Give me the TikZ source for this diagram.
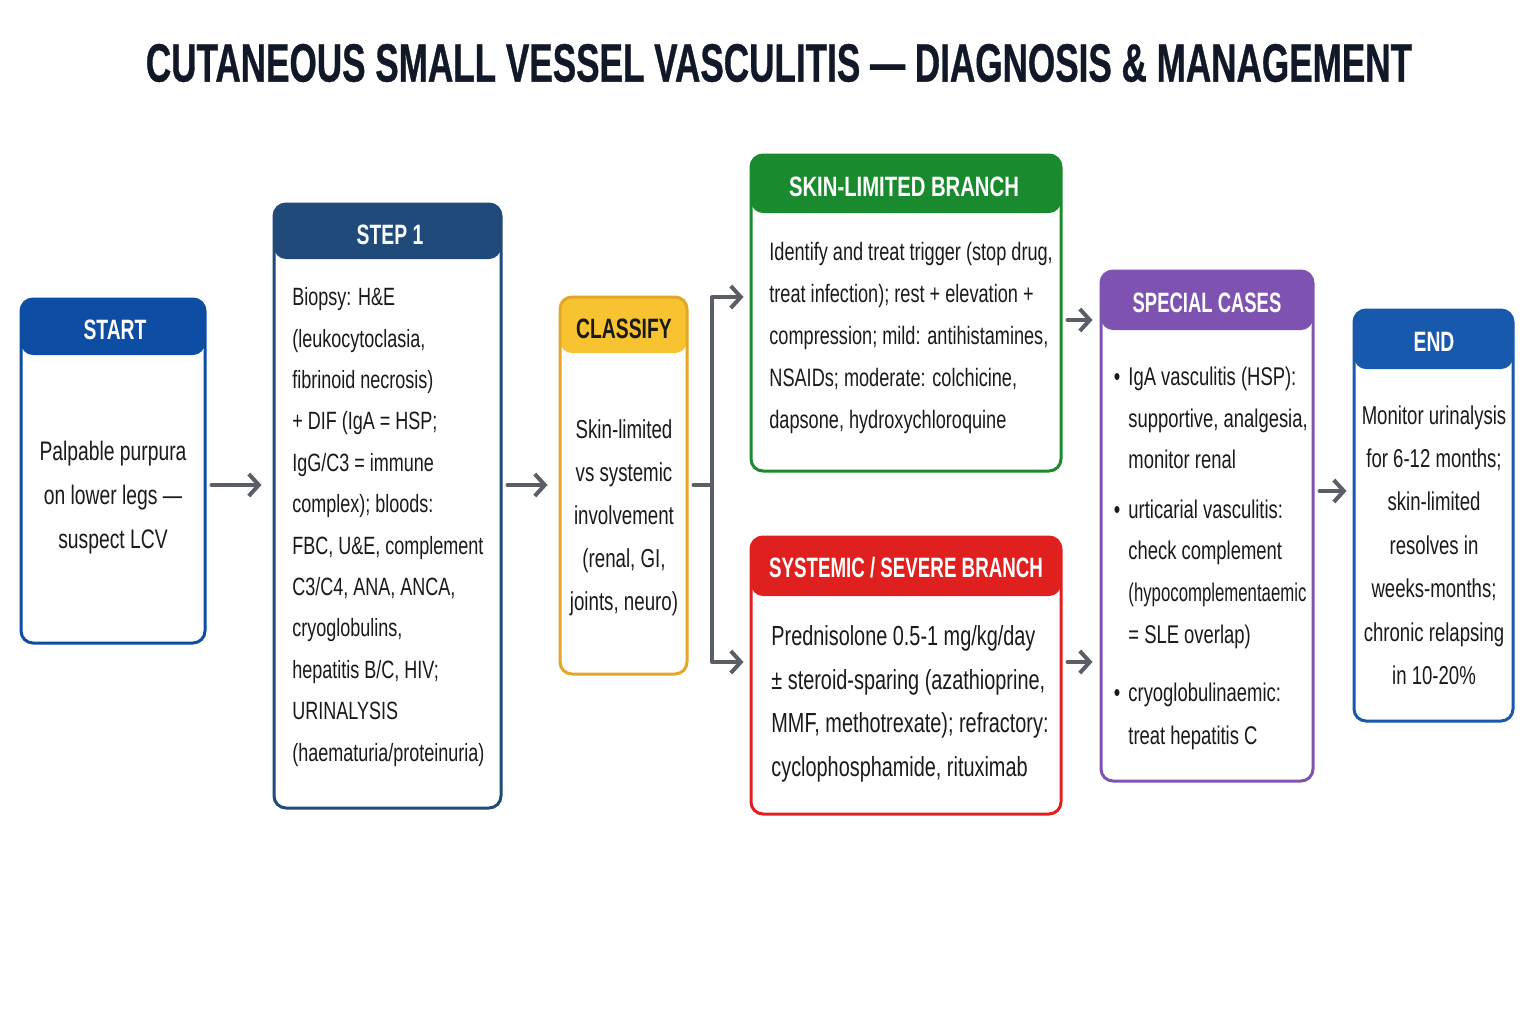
\documentclass[tikz,border=0pt]{standalone}
\usepackage{fontspec}
\setmainfont{Liberation Sans}[FakeStretch=0.72]
\newfontfamily\hdrfont{Liberation Sans}[FakeStretch=0.69]
\newfontfamily\ttlfont{Liberation Sans}[FakeStretch=0.65,FakeBold=0.6]
\usetikzlibrary{arrows.meta,fit,calc}
\definecolor{cstart}{HTML}{0E4DA4}
\definecolor{cstep}{HTML}{1F4A7A}
\definecolor{cclsh}{HTML}{F7C331}
\definecolor{cclsb}{HTML}{E5A526}
\definecolor{cskin}{HTML}{1A8A2E}
\definecolor{csys}{HTML}{E0201F}
\definecolor{cspec}{HTML}{7E52B0}
\definecolor{cend}{HTML}{1659AD}
\definecolor{carr}{HTML}{5A5E66}
\definecolor{ctxt}{HTML}{1A1A1A}
\definecolor{cttl}{HTML}{111827}
\newcommand\mybody[2]{\fontsize{#1}{#2}\selectfont}
\begin{document}
\begin{tikzpicture}[x=0.5pt,y=-0.5pt,
  box/.style n args={3}{draw=#1, line width=1.5pt, rounded corners=6pt, fill=white, inner sep=0pt,
    path picture={\fill[#2] (path picture bounding box.north west) rectangle ([yshift=-#3]path picture bounding box.north east);}},
  hdr/.style={font=\hdrfont\bfseries\fontsize{14}{16}\selectfont, text=white, inner sep=0pt},
  body/.style 2 args={font=\mybody{#1}{#2}, text=ctxt, inner sep=0pt},
  arr/.style={draw=carr, line width=2pt, line cap=round, line join=round, -{Straight Barb[length=5pt,width=11pt,line width=2pt]}},
  lin/.style={draw=carr, line width=2pt, line cap=round, line join=round}]
\useasboundingbox[fill=white] (0,0) rectangle (1536,1024);

\node[font=\ttlfont\bfseries\fontsize{27}{30}\selectfont, text=cttl] (title) at (779,63) {CUTANEOUS SMALL VESSEL VASCULITIS — DIAGNOSIS \& MANAGEMENT};

% boxes
\node[box={cstart}{cstart}{28pt}, fit={(21,299)(205,643)}] (start) {};
\node[box={cstep}{cstep}{27.5pt}, fit={(274,204)(501,808)}] (step1) {};
\node[box={cclsb}{cclsh}{28pt}, fit={(560,297)(687,674)}] (classify) {};
\node[box={cskin}{cskin}{29pt}, fit={(751,155)(1061,471)}] (skin) {};
\node[box={csys}{csys}{29.5pt}, fit={(751,537)(1061,814)}] (sys) {};
\node[box={cspec}{cspec}{29.5pt}, fit={(1101,271)(1313,781)}] (spec) {};
\node[box={cend}{cend}{29.5pt}, fit={(1354,310)(1513,721)}] (endb) {};

% headers
\node[hdr] at (115,330) {START};
\node[hdr] at (390,235) {STEP 1};
\node[hdr, text=ctxt] at (624,329) {CLASSIFY};
\node[hdr] at (904,187) {\scalebox{1.05}[1]{SKIN-LIMITED BRANCH}};
\node[hdr] at (906,568) {\scalebox{0.97}[1]{SYSTEMIC / SEVERE BRANCH}};
\node[hdr] at (1207,303) {\scalebox{0.955}[1]{SPECIAL CASES}};
\node[hdr] at (1434,342) {END};

% bodies
\node[body={13.4}{22pt}, align=center] (tstart) at (113,498) {Palpable purpura\\on lower legs —\\suspect LCV};
\node[body={12.5}{20.7pt}, align=left, anchor=west] (tstep) at (292,527) {Biopsy: H\&E\\(leukocytoclasia,\\fibrinoid necrosis)\\+ DIF (IgA = HSP;\\IgG/C3 = immune\\complex); bloods:\\FBC, U\&E, complement\\C3/C4, ANA, ANCA,\\cryoglobulins,\\hepatitis B/C, HIV;\\URINALYSIS\\(haematuria/proteinuria)};
\node[body={13}{21.5pt}, align=center] (tcls) at (624,518) {Skin-limited\\vs systemic\\involvement\\(renal, GI,\\joints, neuro)};
\node[body={12.6}{21.1pt}, align=left, anchor=west] (tskin) at (769,338) {Identify and treat trigger (stop drug,\\treat infection); rest + elevation +\\compression; mild: antihistamines,\\NSAIDs; moderate: colchicine,\\dapsone, hydroxychloroquine};
\node[body={13.8}{21.8pt}, align=left, anchor=west] (tsys) at (771,704) {Prednisolone 0.5-1 mg/kg/day\\± steroid-sparing (azathioprine,\\MMF, methotrexate); refractory:\\cyclophosphamide, rituximab};
\node[body={12.8}{20.8pt}, align=left, anchor=west] (ts1) at (1128,418) {\llap{•\hspace{4pt}}IgA vasculitis (HSP):\\supportive, analgesia,\\monitor renal};
\node[body={12.8}{20.8pt}, align=left, anchor=west] (ts2) at (1128,574) {\llap{•\hspace{4pt}}urticarial vasculitis:\\check complement\\\scalebox{0.91}[1]{(hypocomplementaemic}\\= SLE overlap)};
\node[body={12.8}{21.5pt}, align=left, anchor=west] (ts3) at (1128,716) {\llap{•\hspace{4pt}}cryoglobulinaemic:\\treat hepatitis C};
\node[body={12.9}{21.7pt}, align=center] (tend) at (1434,545) {Monitor urinalysis\\for 6-12 months;\\skin-limited\\resolves in\\weeks-months;\\chronic relapsing\\in 10-20\%};

% connectors
\coordinate (r1) at (0,485);
\coordinate (r2) at (0,491);
\coordinate (fork) at (712,485);
\draw[arr] ([xshift=2.5pt]start.east |- r1) -- ([xshift=-5.5pt]step1.west |- r1);
\draw[arr] ([xshift=2.5pt]step1.east |- r1) -- ([xshift=-5.5pt]classify.west |- r1);
\draw[lin] ([xshift=2.5pt]classify.east |- r1) -- (fork);
\draw[arr] (fork) |- ([xshift=-3pt,yshift=8pt]skin.west);
\draw[arr] (fork) |- ([xshift=-3pt,yshift=6.75pt]sys.west);
\draw[arr] ([xshift=2.5pt,yshift=-3.5pt]skin.east) -- ([xshift=-3.5pt,yshift=-3.5pt]skin.east -| spec.west);
\draw[arr] ([xshift=2.5pt,yshift=6.75pt]sys.east) -- ([xshift=-3.5pt,yshift=6.75pt]sys.east -| spec.west);
\draw[arr] ([xshift=2.5pt]spec.east |- r2) -- ([xshift=-3pt]endb.west |- r2);
\end{tikzpicture}
\end{document}
